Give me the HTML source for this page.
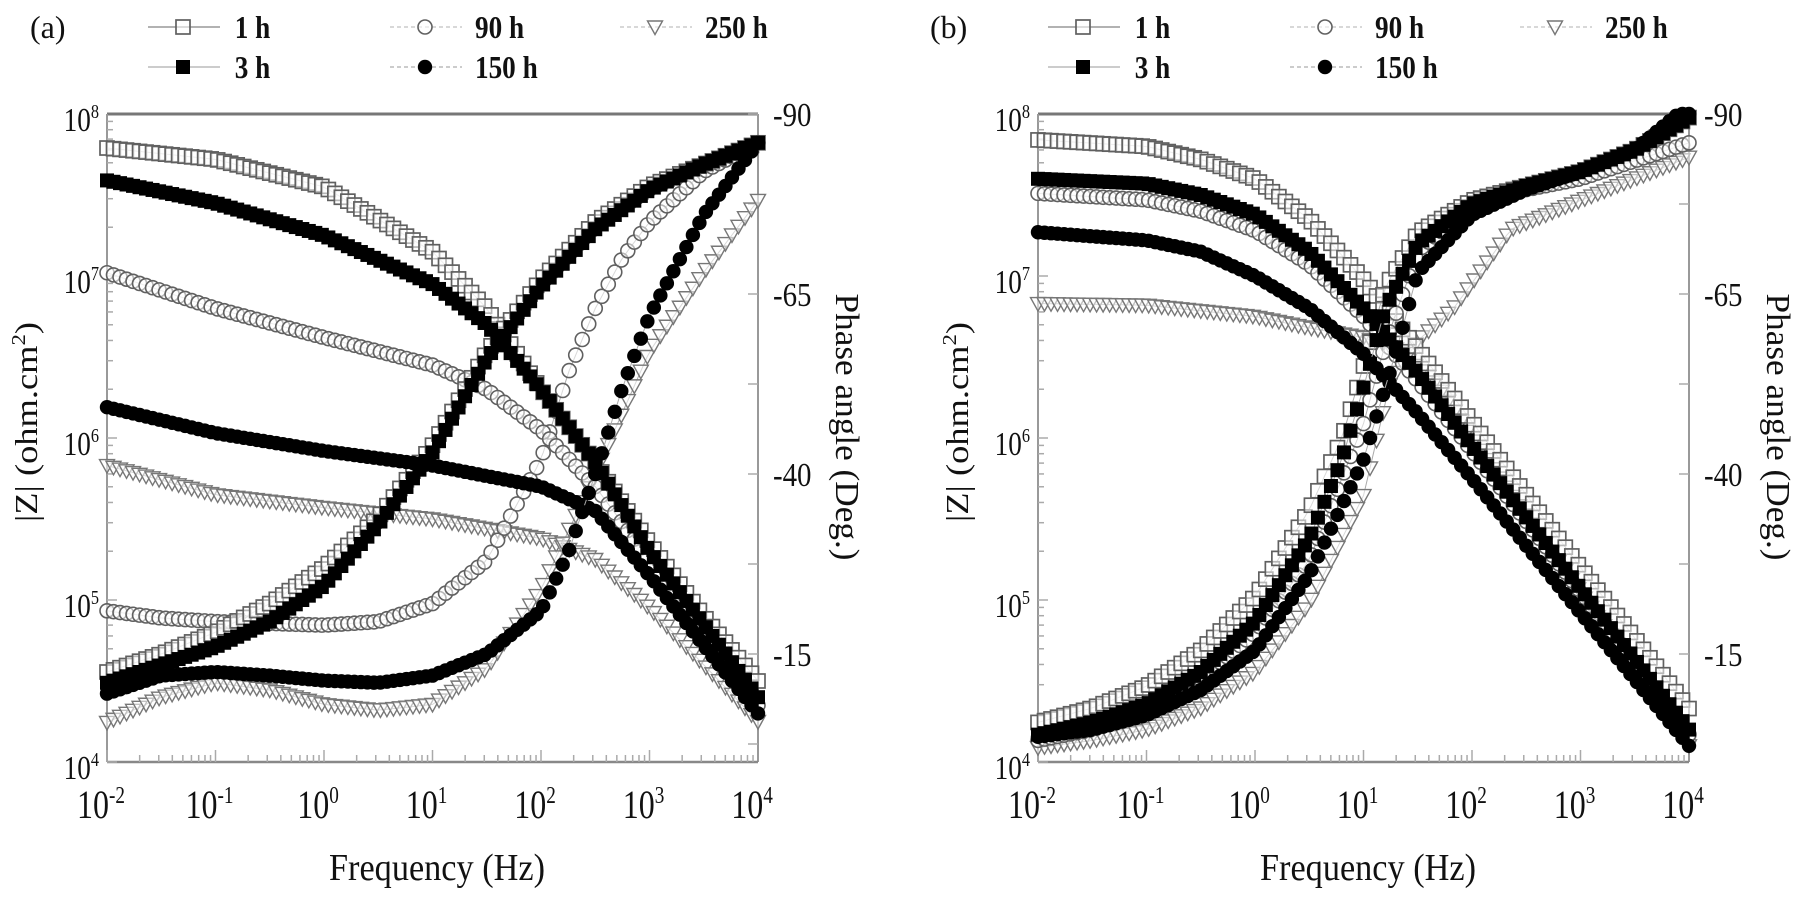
<!DOCTYPE html>
<html><head><meta charset="utf-8"><style>
html,body{margin:0;padding:0;background:#fff;width:1800px;height:900px;overflow:hidden}
svg text{font-family:"Liberation Serif",serif;fill:#111}
</style></head><body>
<svg id="s" width="1800" height="900" xmlns="http://www.w3.org/2000/svg"></svg>
<script>
const S=document.getElementById('s');let h='';
const T=114,B=762;
function yZ(l){return T+(8-l)*162;}
function yP(p){return B-p*7.2;}
function interp(pts,x){if(x<=pts[0][0])return pts[0][1];for(let i=1;i<pts.length;i++){if(x<=pts[i][0]){const a=pts[i-1],b=pts[i];return a[1]+(b[1]-a[1])*(x-a[0])/(b[0]-a[0]);}}return pts[pts.length-1][1];}
function marker(t,x,y){
 const g='#606060';
 if(t=='os')return `<rect x="${x-7}" y="${y-7}" width="14" height="14" fill="#fff" fill-opacity="0.55" stroke="${g}" stroke-width="1.7"/>`;
 if(t=='fs')return `<rect x="${x-7}" y="${y-7}" width="14" height="14" fill="#000"/>`;
 if(t=='oc')return `<circle cx="${x}" cy="${y}" r="7" fill="#fff" fill-opacity="0.55" stroke="${g}" stroke-width="1.6"/>`;
 if(t=='fc')return `<circle cx="${x}" cy="${y}" r="7.2" fill="#000"/>`;
 if(t=='ot')return `<path d="M${x-7.5},${y-6} L${x+7.5},${y-6} L${x},${y+7.5} Z" fill="#fff" fill-opacity="0.55" stroke="#777" stroke-width="1.4"/>`;
}
function series(L,pts,t,isZ){
 const W=(651)/6;let ln='',mk='';const N=100;
 for(let i=0;i<=N;i++){const lf=-2+i*6/N;const v=interp(pts,lf);const x=L+(lf+2)*W;const y=isZ?yZ(v):yP(v);
  ln+=(i?'L':'M')+x.toFixed(1)+','+y.toFixed(1);mk+=marker(t,x,y);}
 return `<path d="${ln}" fill="none" stroke="#aaa" stroke-width="1"/>`+mk;
}
function lab(x,y,base,sup,anchor,fs){
 return `<text x="${x}" y="${y}" font-size="${fs}" text-anchor="${anchor}" transform="translate(${x},0) scale(0.8,1) translate(${-x},0)">${base}<tspan font-size="${fs*0.6}" dy="${-fs*0.38}">${sup}</tspan></text>`;
}
function panel(L,data,tag,lo){
 const R=L+651,W=651/6;let s='';
 s+=`<line x1="${L}" y1="${T}" x2="${R}" y2="${T}" stroke="#777" stroke-width="3"/>`;
 s+=`<line x1="${L}" y1="${T}" x2="${L}" y2="${B}" stroke="#999" stroke-width="2"/>`;
 s+=`<line x1="${R}" y1="${T}" x2="${R}" y2="${B}" stroke="#999" stroke-width="2"/>`;
 s+=`<line x1="${L}" y1="${B}" x2="${R}" y2="${B}" stroke="#888" stroke-width="2.5"/>`;
 for(let d=4;d<8;d++)for(let k=1;k<10;k++){const y=yZ(d+Math.log10(k));s+=`<line x1="${L}" y1="${y}" x2="${L+(k==1?10:6)}" y2="${y}" stroke="#aaa" stroke-width="1.5"/>`;}
 for(let d=-2;d<4;d++)for(let k=1;k<10;k++){const x=L+(d+2+Math.log10(k))*W;s+=`<line x1="${x}" y1="${B}" x2="${x}" y2="${B-(k==1?12:7)}" stroke="#aaa" stroke-width="1.5"/>`;}
 for(let p=2.5;p<=90;p+=12.5){const y=yP(p);s+=`<line x1="${R}" y1="${y}" x2="${R-10}" y2="${y}" stroke="#aaa" stroke-width="1.5"/>`;}
 for(let d=4;d<=8;d++)s+=lab(L-8,yZ(d)+17,'10',d,'end',34);
 const xs=['-2','-1','0','1','2','3','4'];
 xs.forEach((e,i)=>{s+=lab(L+i*W-6,818,'10',e,'middle',40);});
 [[90,'-90'],[65,'-65'],[40,'-40'],[15,'-15']].forEach(a=>{s+=`<text x="${R+15}" y="${yP(a[0])+12}" font-size="34" transform="translate(${R+15},0) scale(0.85,1) translate(${-R-15},0)">${a[1]}</text>`;});
 s+=`<text font-size="32" text-anchor="middle" textLength="200" lengthAdjust="spacingAndGlyphs" transform="translate(${L-70},422) rotate(-90)">|Z| (ohm.cm<tspan font-size="20" dy="-12">2</tspan><tspan dy="12">)</tspan></text>`;
 s+=`<text font-size="34" text-anchor="middle" textLength="267" lengthAdjust="spacingAndGlyphs" transform="translate(${R+78},427) rotate(90)">Phase angle (Deg.)</text>`;
 s+=`<text x="${L+330}" y="880" font-size="38" text-anchor="middle" textLength="216" lengthAdjust="spacingAndGlyphs">Frequency (Hz)</text>`;
 data.forEach(d=>{s+=series(L,d[0],d[1],d[2]);});
 const o=lo;
 s+=`<text x="${30+o}" y="38" font-size="32">${tag}</text>`;
 const leg=[[183,27,'os','1 h','#999','none'],[183,67,'fs','3 h','#bbb','none'],[425,27,'oc','90 h','#ccc','4,3'],[425,67,'fc','150 h','#bbb','4,3'],[655,27,'ot','250 h','#ccc','4,3']];
 leg.forEach(l=>{const x=l[0]+o;s+=`<line x1="${x-35}" y1="${l[1]}" x2="${x+37}" y2="${l[1]}" stroke="${l[4]}" stroke-width="1.5" stroke-dasharray="${l[5]}"/>`;s+=marker(l[2],x,l[1]);
  s+=`<text x="${x+(l[3].length>3?50:52)}" y="${l[1]+11}" font-size="32" font-weight="bold" transform="translate(${x+50},0) scale(0.85,1) translate(${-x-50},0)">${l[3]}</text>`;});
 return s;
}
const A=[
 [[[-2,5.83],[-1,5.65],[0,5.57],[1,5.5],[2,5.38],[2.5,5.25],[3,4.95],[3.5,4.6],[4,4.25]],'ot',1],
 [[[-2,21],[-1.5,20],[-1,19.5],[0,19],[0.5,19.5],[1,22],[1.5,28],[2,42],[2.25,54],[2.5,63],[2.75,70],[3,75],[3.5,82],[4,86]],'oc',0],
 [[[-2,5.5],[-1.5,9],[-1,11],[-0.5,10],[0,8],[0.5,7.2],[1,8],[1.5,13],[2,24],[2.5,40],[3,57],[3.5,68],[4,78]],'ot',0],
 [[[-2,7.02],[-1,6.8],[0,6.62],[1,6.45],[1.5,6.3],[2,6.05],[2.5,5.7],[3,5.25],[3.5,4.8],[4,4.35]],'oc',1],
 [[[-2,7.79],[-1,7.72],[0,7.55],[1,7.15],[1.5,6.8],[2,6.3],[2.5,5.85],[3,5.35],[3.5,4.9],[4,4.5]],'os',1],
 [[[-2,12.5],[-1.5,15],[-1,18],[-0.5,22],[0,27],[0.5,34],[1,44],[1.5,57],[2,67],[2.5,75],[3,80],[4,86]],'os',0],
 [[[-2,6.19],[-1,6.03],[0,5.92],[1,5.83],[2,5.7],[2.5,5.55],[3,5.15],[3.5,4.72],[4,4.3]],'fc',1],
 [[[-2,9.5],[-1.8,10.5],[-1.5,12],[-1,12.5],[-0.5,12],[0,11.3],[0.5,11],[1,12],[1.5,15],[2,21],[2.25,29],[2.5,40],[2.75,52],[3,62],[3.5,76],[4,86]],'fc',0],
 [[[-2,7.59],[-1,7.45],[0,7.25],[1,6.95],[1.5,6.7],[2,6.3],[2.5,5.85],[3,5.3],[3.5,4.85],[4,4.4]],'fs',1],
 [[[-2,11],[-1.5,13.5],[-1,16],[-0.5,19.5],[0,24.5],[0.5,33],[1,43],[1.5,56],[2,66],[2.5,74],[3,79.5],[3.5,83],[4,86]],'fs',0]
];
const Bd=[
 [[[-2,6.83],[-1,6.82],[0,6.75],[0.5,6.68],[1,6.62],[1.3,6.55],[1.67,6.34],[2,6.0],[3,5.05],[4,4.1]],'ot',1],
 [[[-2,2],[-1.5,3],[-1,4.5],[-0.5,7.5],[0,12.5],[0.5,22],[1,37],[1.25,53],[1.5,58.5],[1.83,63],[2.36,74],[3,78],[3.5,81],[4,84]],'ot',0],
 [[[-2,7.84],[-1,7.8],[-0.5,7.72],[0,7.6],[0.5,7.35],[1,6.98],[1.5,6.55],[2,6.1],[3,5.2],[4,4.33]],'os',1],
 [[[-2,5.5],[-1.5,7.5],[-1,10.5],[-0.5,15.5],[0,23],[0.5,35],[0.8,45],[1,55],[1.2,66],[1.5,73.5],[2,78],[2.5,80],[3,82],[3.5,85],[4,89.5]],'os',0],
 [[[-2,7.51],[-1,7.47],[-0.5,7.4],[0,7.28],[0.5,7.07],[1,6.75],[1.5,6.35],[2,5.92],[3,5.05],[4,4.17]],'oc',1],
 [[[-2,3],[-1.5,4.5],[-1,7],[-0.5,11.5],[0,18],[0.5,28],[1,47],[1.2,58],[1.5,71],[2,77],[2.5,79.5],[3,81],[3.5,83.5],[4,86]],'oc',0],
 [[[-2,7.27],[-1,7.22],[-0.5,7.15],[0,7.0],[0.5,6.8],[1,6.52],[1.5,6.15],[2,5.75],[3,4.92],[4,4.1]],'fc',1],
 [[[-2,3.5],[-1.5,4.5],[-1,6.5],[-0.5,10],[0,15.5],[0.5,26],[1,42],[1.3,57],[1.5,68],[2,76],[2.5,79.5],[3,82],[3.5,85],[3.9,90],[4,90]],'fc',0],
 [[[-2,7.6],[-1,7.57],[-0.5,7.5],[0,7.38],[0.5,7.15],[1,6.8],[1.5,6.4],[2,5.95],[3,5.07],[4,4.2]],'fs',1],
 [[[-2,3.8],[-1.5,5.5],[-1,8],[-0.5,12.5],[0,19.5],[0.5,31],[0.8,42],[1,52],[1.2,63],[1.5,72],[2,77.5],[2.5,80],[3,82],[3.5,85],[4,89.5]],'fs',0]
];
h+=panel(107,A,'(a)',0);
h+=panel(1038,Bd,'(b)',900);
S.innerHTML=h;
</script>
</body></html>
